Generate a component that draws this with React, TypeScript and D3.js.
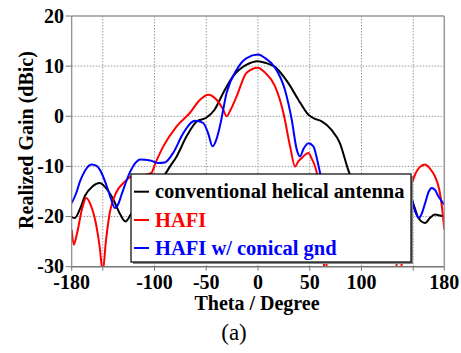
import React from "react";
import * as d3 from "d3";

const W = 461;
const H = 353;

// Tick values
const xTicks = [-180, -150, -100, -50, 0, 50, 100, 150, 180];
const xTickLabels = [-180, -100, -50, 0, 50, 100, 180];
const xGrid = [-150, -100, -50, 0, 50, 100, 150];
const yTicks = [-30, -20, -10, 0, 10, 20];

const seriesNames = ["conventional helical antenna", "HAFI", "HAFI w/ conical gnd"];
const seriesColors = ["#000000", "#ff0000", "#0000ff"];

// conventional helical antenna
const convTheta = [-180, -177, -172, -167, -160, -153, -145, -140, -133, -128, -123, -115, -105, -95, -90, -85, -78.6, -69, -59, -50, -42, -33.5, -24, -11, 0, 8, 16, 29, 39, 48.7, 55, 61.6, 71, 79, 87, 95, 105, 115, 125, 135, 147, 151, 155, 161.5, 166, 171, 176, 180];
const convGain = [-20.1, -20.3, -18.5, -15.8, -14.0, -13.3, -14.8, -16.5, -19.6, -21.0, -19.6, -17.0, -14.5, -12.8, -11.6, -10.0, -8.0, -4.0, -1.0, -0.3, 1.3, 4.7, 8.0, 10.3, 11.0, 10.6, 9.9, 6.7, 3.3, 0.3, -0.5, -1.0, -2.7, -5.3, -10.6, -15, -20, -22, -20, -17, -16, -18, -20.3, -21.3, -20.3, -19.6, -19.8, -20];

// HAFI
const hafiTheta = [-180, -178, -175, -170, -166, -162, -157, -153, -150, -147, -143, -137, -130, -122, -112, -103, -99.6, -91.5, -78.6, -65.7, -56, -48, -40, -34, -30.3, -26, -20.6, -11, 0, 6.8, 16.4, 24.5, 31, 35.8, 39, 42.3, 48.7, 52, 56.8, 60, 63, 65, 67, 72, 80, 90, 100, 110, 120, 128, 133, 136.5, 140, 144, 147, 151.8, 156, 161.5, 166, 171, 175, 177.7, 180];
const hafiGain = [-22.6, -25.6, -23.5, -18.5, -16.3, -17.5, -21, -26, -31, -25, -19, -15.2, -13.3, -12, -11.8, -11.3, -9.6, -6, -2, 0.7, 3.3, 4.3, 3.3, 1.5, 0, 1.5, 4, 8.7, 9.7, 8.7, 6, 0.7, -6, -10, -9, -8.3, -7.3, -8.5, -11.3, -16, -26, -34, -26, -19, -16, -17, -19, -17, -20, -24, -28, -34, -26, -18, -14.6, -11.6, -10.2, -9.6, -10.4, -12, -14.5, -18, -22.6];

// HAFI w/ conical gnd
const coneTheta = [-180, -176, -172, -167, -161, -156, -153, -146, -142, -138.3, -135, -131.8, -124, -118, -114, -104, -97, -90, -82, -72, -61, -53, -48, -44, -40, -36.8, -30.3, -20.6, -11, 0, 6.8, 16.4, 26, 32.6, 37.4, 40.6, 44, 48.7, 53.5, 57, 60, 65, 75, 85, 95, 110, 125, 140, 147, 151.8, 155.7, 158, 161.5, 165, 168, 171, 174.4, 180];
const coneGain = [-17.3, -15.5, -13, -10.8, -9.6, -9.9, -10.6, -14, -16.5, -18.3, -17.5, -15.6, -11.3, -9.2, -8.6, -8.8, -9.3, -9.2, -7.3, -3.3, -0.9, -1.3, -3.5, -6, -4.5, -2, 4.7, 9.3, 11.6, 12.3, 11.6, 9.7, 5.3, -0.7, -6.6, -8, -6.5, -5.4, -6, -8.5, -11.3, -15, -19, -21, -18, -16, -18, -15, -15.6, -19, -20.3, -19.5, -17.3, -15, -14.3, -14.7, -16, -17.6];

const seriesTheta = [convTheta, hafiTheta, coneTheta];
const seriesGain = [convGain, hafiGain, coneGain];

const FONT = "'Liberation Serif', 'Times New Roman', serif";

export default function App() {
  const x0 = 71.7, x1 = 444.3, y0 = 16, y1 = 266.7;
  const x = d3.scaleLinear().domain([-180, 180]).range([x0, x1]);
  const y = d3.scaleLinear().domain([-30, 20]).range([y1, y0]);
  const line = d3
    .line<[number, number]>()
    .x((d) => x(d[0]))
    .y((d) => y(d[1]))
    .curve(d3.curveMonotoneX);

  const lx0 = 131, ly0 = 174, lx1 = 411, ly1 = 262;
  const legendRows = [191.7, 220, 248];

  return (
    <svg
      width={W}
      height={H}
      style={{ position: "absolute", left: 0, top: 0, background: "#fff" }}
      fontFamily={FONT}
    >
      <defs>
        <clipPath id="plotclip">
          <rect x={x0} y={y0} width={x1 - x0} height={y1 - y0} />
        </clipPath>
      </defs>
      <rect x={0} y={0} width={W} height={H} fill="#fff" />
      {/* grid */}
      {xGrid.map((t) => (
        <line key={"gx" + t} x1={x(t)} x2={x(t)} y1={y0} y2={y1} stroke="#999" strokeWidth={1} strokeDasharray="1.5,1.5" />
      ))}
      {yTicks.slice(1, -1).map((t) => (
        <line key={"gy" + t} x1={x0} x2={x1} y1={y(t)} y2={y(t)} stroke="#999" strokeWidth={1} strokeDasharray="1.5,1.5" />
      ))}
      {/* curves */}
      <g clipPath="url(#plotclip)">
        {seriesTheta.map((th, i) => (
          <path
            key={"s" + i}
            d={line(th.map((t, j) => [t, seriesGain[i][j]] as [number, number])) || ""}
            fill="none"
            stroke={seriesColors[i]}
            strokeWidth={2}
            strokeLinejoin="round"
          />
        ))}
      </g>
      {/* frame */}
      <line x1={x0} x2={x1} y1={y0} y2={y0} stroke="#999" strokeWidth={1.5} />
      <line x1={x1} x2={x1} y1={y0} y2={y1} stroke="#999" strokeWidth={1.5} />
      <line x1={x0} x2={x0} y1={y0} y2={y1} stroke="#888" strokeWidth={1.2} />
      <line x1={x0} x2={x1} y1={y1} y2={y1} stroke="#777" strokeWidth={1.5} />
      {/* y ticks */}
      {yTicks.map((t) => (
        <g key={"yt" + t}>
          <line x1={x0 - 6} x2={x0} y1={y(t)} y2={y(t)} stroke="#777" strokeWidth={1} />
          <text x={64} y={y(t)} dy="0.33em" textAnchor="end" fontSize={20} fontWeight="bold">
            {t}
          </text>
        </g>
      ))}
      {/* x ticks */}
      {xTicks.map((t) => (
        <line key={"xt" + t} x1={x(t)} x2={x(t)} y1={y1} y2={y1 + 4} stroke="#777" strokeWidth={1} />
      ))}
      {xTickLabels.map((t) => (
        <text key={"xl" + t} x={x(t)} y={289} textAnchor="middle" fontSize={20} fontWeight="bold">
          {t}
        </text>
      ))}
      {/* axis titles */}
      <text x={257} y={310} textAnchor="middle" fontSize={20} fontWeight="bold">
        Theta / Degree
      </text>
      <text transform="translate(33,140) rotate(-90)" textAnchor="middle" fontSize={20} fontWeight="bold">
        Realized Gain (dBic)
      </text>
      <text x={234} y={340} textAnchor="middle" fontSize={23}>
        (a)
      </text>
      {/* legend */}
      <rect x={lx0 + 2} y={ly0 + 2} width={lx1 - lx0} height={ly1 - ly0} fill="#888" />
      <rect x={lx0} y={ly0} width={lx1 - lx0} height={ly1 - ly0} fill="#fff" stroke="#000" strokeWidth={1.2} />
      {seriesNames.map((n, i) => (
        <g key={"lg" + i}>
          <line x1={134} x2={149} y1={legendRows[i]} y2={legendRows[i]} stroke={seriesColors[i]} strokeWidth={2} />
          <text x={155} y={legendRows[i]} dy="0.33em" fontSize={20.5} fontWeight="bold" fill={seriesColors[i]}>
            {n}
          </text>
        </g>
      ))}
    </svg>
  );
}
